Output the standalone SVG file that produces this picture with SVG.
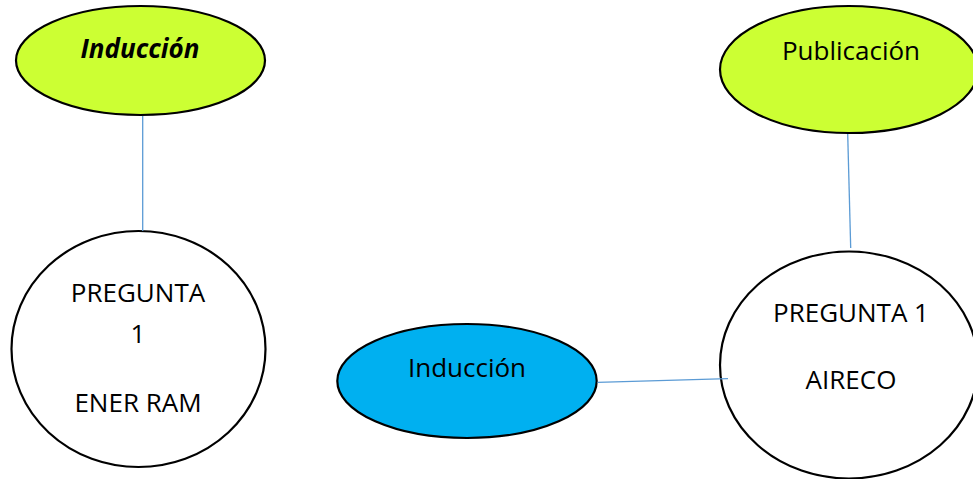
<svg xmlns="http://www.w3.org/2000/svg" width="973" height="479" viewBox="0 0 973 479">
<style>
.shape{stroke:#000;stroke-width:2.2}
.green{fill:#CCFF33}
.blue{fill:#00B0F0}
.white{fill:#fff}
.lbl{font-family:"Open Sans","Liberation Sans",sans-serif;font-size:26px;fill:#000;text-anchor:middle}
.conn{stroke:#5B9BD5;stroke-width:1.3;fill:none}
</style>
<rect width="973" height="479" fill="#fff"/>
<g id="node-induccion-top">
<ellipse class="shape green" cx="140.5" cy="60.5" rx="124.5" ry="54.5"/>
<text class="lbl" x="140" y="58" font-weight="bold" font-style="italic">Inducción</text>
</g>
<g id="node-publicacion">
<ellipse class="shape green" cx="849" cy="69.5" rx="129" ry="63.5"/>
<text class="lbl" x="851" y="60">Publicación</text>
</g>
<g id="node-pregunta-ener">
<ellipse class="shape white" cx="138.5" cy="349" rx="127" ry="118"/>
<text class="lbl" x="138" y="302">PREGUNTA</text>
<text class="lbl" x="138" y="343">1</text>
<text class="lbl" x="138" y="412">ENER RAM</text>
</g>
<g id="node-induccion-blue">
<ellipse class="shape blue" cx="467" cy="381" rx="129.7" ry="57"/>
<text class="lbl" x="467" y="377">Inducción</text>
</g>
<g id="node-pregunta-aireco">
<ellipse class="shape white" cx="849" cy="365" rx="129" ry="113.5"/>
<text class="lbl" x="851" y="321.7">PREGUNTA 1</text>
<text class="lbl" x="851" y="389">AIRECO</text>
</g>
<g id="connectors">
<line class="conn" x1="142.7" y1="116" x2="142.7" y2="231"/>
<line class="conn" x1="847.7" y1="134" x2="850.7" y2="248"/>
<line class="conn" x1="597.5" y1="382.3" x2="728" y2="378.7"/>
</g>
</svg>
